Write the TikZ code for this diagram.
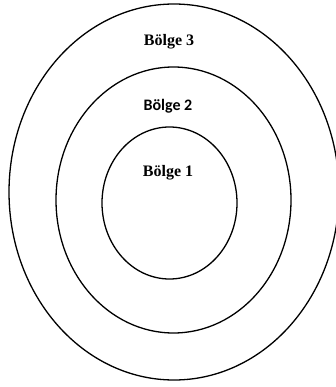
\documentclass[tikz,border=0pt]{standalone}
\usepackage{fontspec}
\newfontfamily\tnrfont{Liberation Serif}
\newfontfamily\carlitofont{Carlito}
\begin{document}
\begin{tikzpicture}[x=1pt,y=-1pt,
  ring/.style={draw=black,line width=1.3pt},
  lbl/.style={anchor=base,inner sep=0pt,font=\fontsize{16}{19}\selectfont\bfseries}]
\useasboundingbox (0,0) rectangle (336,387);
\clip (0,0) rectangle (336,387);
\draw[ring] (174,192) ellipse [x radius=165,y radius=188];
\draw[ring] (173.5,200) ellipse [x radius=117.5,y radius=133];
\draw[ring] (169.5,203) ellipse [x radius=67.5,y radius=76];
\node[lbl] (b3) at (169,46) {\tnrfont Bölge 3};
\node[lbl] (b2) at (168,111) {\carlitofont Bölge 2};
\node[lbl] (b1) at (168,176) {\tnrfont Bölge 1};
\end{tikzpicture}
\end{document}
